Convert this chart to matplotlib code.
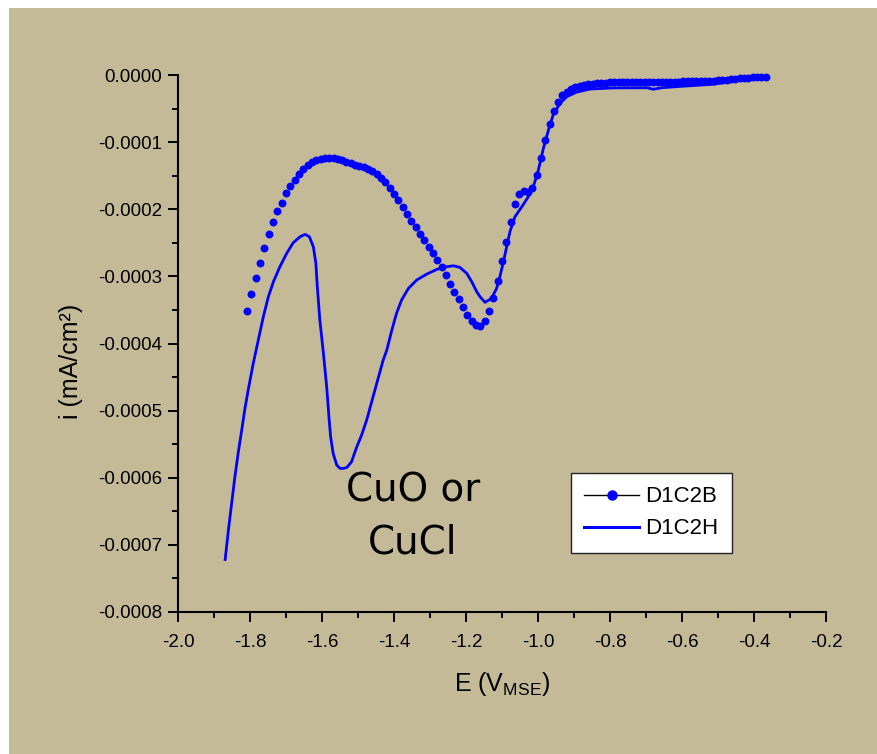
import matplotlib
matplotlib.use("Agg")
import matplotlib.pyplot as plt
from matplotlib.lines import Line2D
from matplotlib.patches import Rectangle
from matplotlib.ticker import MultipleLocator, FormatStrFormatter

plt.rcParams['font.family'] = ['Liberation Sans', 'DejaVu Sans']
plt.rcParams['mathtext.fontset'] = 'custom'
plt.rcParams['mathtext.rm'] = 'Liberation Sans'
plt.rcParams['mathtext.default'] = 'regular'

# D1C2B: dotted sweep
E_b = [-1.808, -1.796, -1.784, -1.772, -1.760, -1.748, -1.736, -1.724, -1.712, -1.700,
       -1.688, -1.676, -1.664, -1.652, -1.640, -1.628, -1.616, -1.604, -1.592, -1.580,
       -1.568, -1.556, -1.544, -1.532, -1.520, -1.508, -1.496, -1.484, -1.472, -1.460,
       -1.448, -1.436, -1.424, -1.412, -1.400, -1.388, -1.376, -1.364, -1.352, -1.340,
       -1.328, -1.316, -1.304, -1.292, -1.280, -1.268, -1.256, -1.244, -1.232, -1.220,
       -1.208, -1.196, -1.184, -1.172, -1.160, -1.148, -1.136, -1.124, -1.112, -1.100,
       -1.088, -1.076, -1.064, -1.052, -1.040, -1.028, -1.016, -1.004, -0.992, -0.980,
       -0.968, -0.956, -0.944, -0.932, -0.920, -0.908, -0.896, -0.884, -0.872, -0.860,
       -0.848, -0.836, -0.824, -0.812, -0.800, -0.788, -0.776, -0.764, -0.752, -0.740,
       -0.728, -0.716, -0.704, -0.692, -0.680, -0.668, -0.656, -0.644, -0.632, -0.620,
       -0.608, -0.596, -0.584, -0.572, -0.560, -0.548, -0.536, -0.524, -0.512, -0.500,
       -0.488, -0.476, -0.464, -0.452, -0.440, -0.428, -0.416, -0.404, -0.392, -0.380,
       -0.368]
i_b = [-3.517e-4, -3.264e-4, -3.021e-4, -2.797e-4, -2.574e-4, -2.370e-4, -2.195e-4, -2.031e-4, -1.903e-4, -1.759e-4,
       -1.654e-4, -1.560e-4, -1.471e-4, -1.401e-4, -1.337e-4, -1.292e-4, -1.262e-4, -1.244e-4, -1.237e-4, -1.237e-4,
       -1.241e-4, -1.252e-4, -1.267e-4, -1.289e-4, -1.311e-4, -1.334e-4, -1.352e-4, -1.371e-4, -1.396e-4, -1.431e-4,
       -1.475e-4, -1.528e-4, -1.595e-4, -1.677e-4, -1.773e-4, -1.863e-4, -1.960e-4, -2.064e-4, -2.168e-4, -2.265e-4,
       -2.362e-4, -2.459e-4, -2.556e-4, -2.653e-4, -2.757e-4, -2.861e-4, -2.981e-4, -3.115e-4, -3.227e-4, -3.338e-4,
       -3.458e-4, -3.577e-4, -3.666e-4, -3.718e-4, -3.733e-4, -3.666e-4, -3.517e-4, -3.323e-4, -3.070e-4, -2.772e-4,
       -2.489e-4, -2.191e-4, -1.923e-4, -1.766e-4, -1.729e-4, -1.736e-4, -1.684e-4, -1.490e-4, -1.237e-4, -0.969e-4,
       -0.730e-4, -0.537e-4, -0.395e-4, -0.298e-4, -0.246e-4, -0.209e-4, -0.186e-4, -0.168e-4, -0.156e-4, -0.140e-4,
       -0.128e-4, -0.120e-4, -0.116e-4, -0.112e-4, -0.109e-4, -0.107e-4, -0.105e-4, -0.104e-4, -0.103e-4, -0.102e-4,
       -0.101e-4, -0.100e-4, -0.100e-4, -0.100e-4, -0.100e-4, -0.099e-4, -0.099e-4, -0.098e-4, -0.098e-4, -0.097e-4,
       -0.097e-4, -0.096e-4, -0.095e-4, -0.095e-4, -0.094e-4, -0.093e-4, -0.091e-4, -0.088e-4, -0.085e-4, -0.080e-4,
       -0.075e-4, -0.069e-4, -0.061e-4, -0.055e-4, -0.049e-4, -0.045e-4, -0.040e-4, -0.036e-4, -0.033e-4, -0.030e-4,
       -0.027e-4]

# D1C2H: solid sweep
E_h = [-1.869, -1.860, -1.851, -1.842, -1.833, -1.823, -1.814, -1.805, -1.791, -1.777,
       -1.763, -1.749, -1.735, -1.717, -1.698, -1.680, -1.661, -1.647, -1.635, -1.624,
       -1.617, -1.613, -1.606, -1.596, -1.587, -1.580, -1.576, -1.569, -1.559, -1.550,
       -1.541, -1.531, -1.518, -1.504, -1.490, -1.476, -1.462, -1.448, -1.430, -1.420,
       -1.406, -1.393, -1.379, -1.360, -1.337, -1.309, -1.281, -1.254, -1.235, -1.217,
       -1.198, -1.184, -1.170, -1.161, -1.147, -1.129, -1.115, -1.106, -1.096, -1.087,
       -1.078, -1.064, -1.045, -1.027, -1.013, -0.999, -0.985, -0.971, -0.958, -0.939,
       -0.920, -0.893, -0.856, -0.791, -0.698, -0.680, -0.656, -0.606, -0.513, -0.467,
       -0.420, -0.374]
i_h = [-7.218e-4, -6.781e-4, -6.383e-4, -5.987e-4, -5.638e-4, -5.291e-4, -4.967e-4, -4.694e-4, -4.297e-4, -3.949e-4,
       -3.602e-4, -3.304e-4, -3.080e-4, -2.857e-4, -2.657e-4, -2.499e-4, -2.410e-4, -2.374e-4, -2.410e-4, -2.559e-4,
       -2.806e-4, -3.155e-4, -3.651e-4, -4.148e-4, -4.645e-4, -5.142e-4, -5.390e-4, -5.638e-4, -5.812e-4, -5.861e-4,
       -5.861e-4, -5.847e-4, -5.763e-4, -5.548e-4, -5.365e-4, -5.142e-4, -4.869e-4, -4.595e-4, -4.247e-4, -4.098e-4,
       -3.800e-4, -3.551e-4, -3.353e-4, -3.179e-4, -3.055e-4, -2.966e-4, -2.896e-4, -2.857e-4, -2.842e-4, -2.866e-4,
       -2.955e-4, -3.080e-4, -3.230e-4, -3.304e-4, -3.387e-4, -3.328e-4, -3.179e-4, -3.006e-4, -2.782e-4, -2.559e-4,
       -2.335e-4, -2.112e-4, -1.963e-4, -1.814e-4, -1.665e-4, -1.416e-4, -1.092e-4, -0.820e-4, -0.596e-4, -0.422e-4,
       -0.323e-4, -0.255e-4, -0.210e-4, -0.192e-4, -0.190e-4, -0.212e-4, -0.190e-4, -0.170e-4, -0.138e-4, -0.100e-4,
       -0.055e-4, -0.034e-4]

tan = '#c4ba98'
blue = '#0000ff'

fig = plt.figure(figsize=(8.78, 7.54), dpi=100, facecolor='white')
fig.patches.append(Rectangle((9 / 878, 0), 1, 1 - 8 / 754, transform=fig.transFigure,
                             facecolor=tan, edgecolor='none', zorder=-10))
ax = fig.add_axes([178 / 878, 1 - 612 / 754, 648 / 878, 537 / 754])
ax.set_facecolor(tan)

ax.plot(E_b, i_b, linestyle='none', marker='o', markersize=5.7, color=blue,
        markeredgewidth=0, clip_on=False)
ax.plot(E_h, i_h, color=blue, linewidth=2.0, solid_joinstyle='round', clip_on=False)

ax.set_xlim(-2.0, -0.2)
ax.set_ylim(-0.0008, 0.0)
ax.xaxis.set_major_locator(MultipleLocator(0.2))
ax.xaxis.set_minor_locator(MultipleLocator(0.1))
ax.yaxis.set_major_locator(MultipleLocator(0.0001))
ax.yaxis.set_minor_locator(MultipleLocator(0.00005))
ax.xaxis.set_major_formatter(FormatStrFormatter('%.1f'))
ax.yaxis.set_major_formatter(FormatStrFormatter('%.4f'))

for s in ['top', 'right']:
    ax.spines[s].set_visible(False)
for s in ['left', 'bottom']:
    ax.spines[s].set_linewidth(1.5)
ax.tick_params(which='major', direction='out', length=7.5, width=1.4, labelsize=13.5)
ax.tick_params(which='minor', direction='out', length=4.5, width=1.4)
ax.tick_params(axis='x', which='major', pad=8)
ax.tick_params(axis='y', which='major', pad=4)

ax.set_xlabel('E (V$_{MSE}$)', fontsize=18, labelpad=14)
ax.set_ylabel('i (mA/cm²)', fontsize=18)
ax.yaxis.set_label_coords(-0.147, 0.467)

ax.text(-1.347, -6.58e-4, 'CuO or\nCuCl', fontsize=28, ha='center', va='center',
        family=['DejaVu Sans'], linespacing=1.45)

handles = [Line2D([], [], color='black', linewidth=1, marker='o', markersize=6.5,
                  markerfacecolor=blue, markeredgecolor=blue),
           Line2D([], [], color=blue, linewidth=2.2)]
leg = ax.legend(handles, ['D1C2B', 'D1C2H'], loc='upper left', bbox_to_anchor=(0.6065, 0.2588),
                fontsize=16, frameon=True, fancybox=False, framealpha=1,
                edgecolor='#222222', handlelength=2.45, handletextpad=0.3,
                borderpad=0.6, borderaxespad=0, labelspacing=0.5)
leg.get_frame().set_linewidth(1.0)

fig.savefig('out.png', dpi=100, facecolor=fig.get_facecolor())
